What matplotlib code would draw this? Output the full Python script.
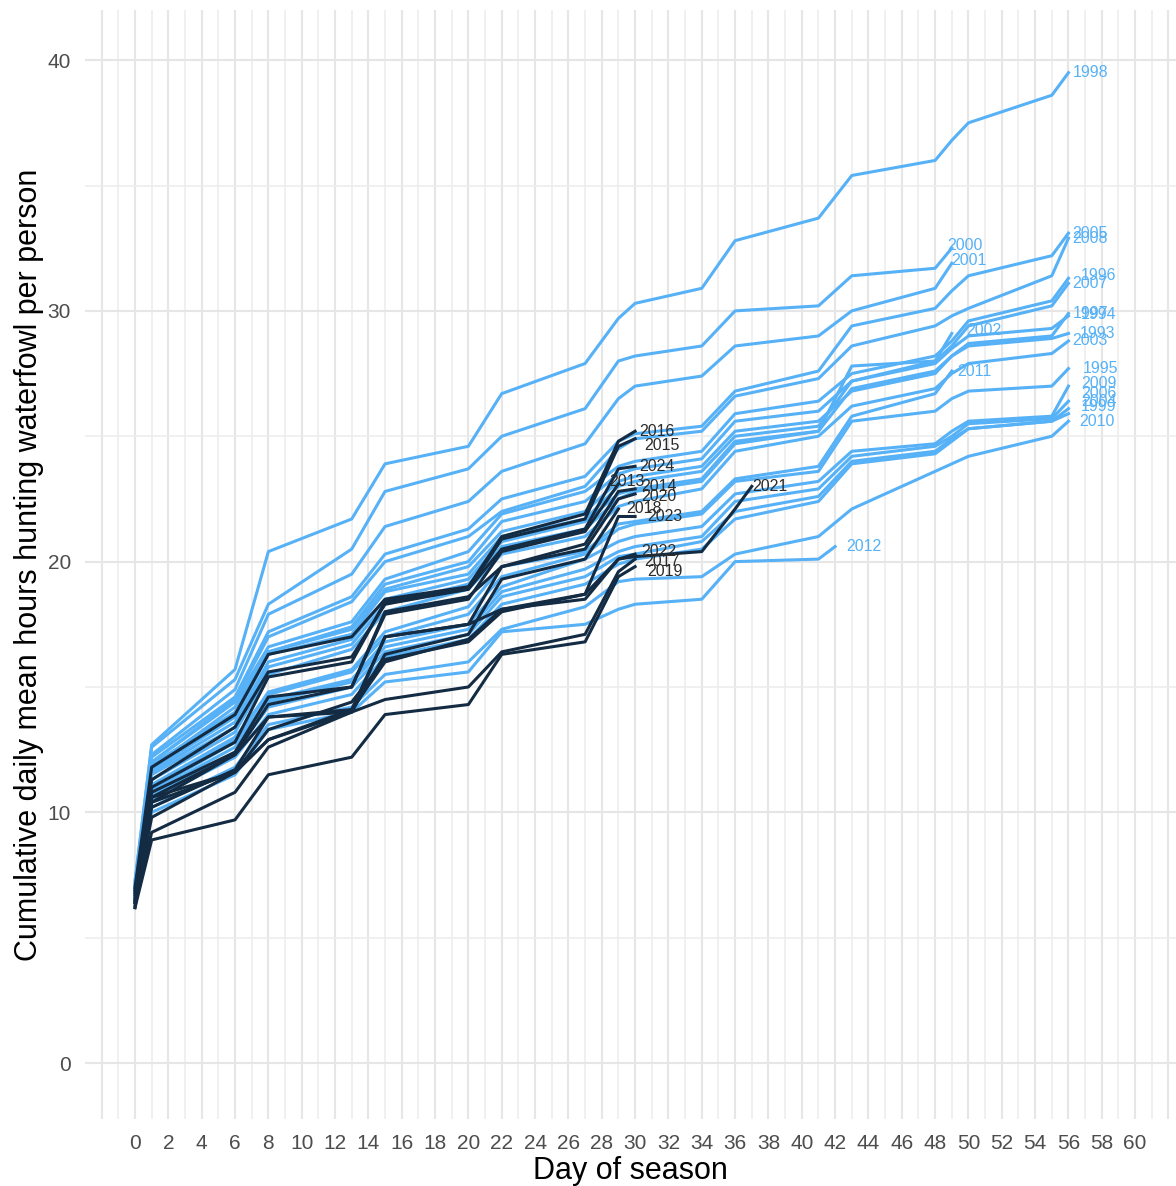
import numpy as np
import matplotlib
matplotlib.use("Agg")
import matplotlib.pyplot as plt

plt.rcParams["font.family"] = ["Liberation Sans", "DejaVu Sans"]

# day of season at which each series below has a value (None = no point there)
DAYS = [0, 1, 6, 8, 13, 15, 20, 22, 27, 29, 30, 34, 36, 37, 41, 42, 43, 48, 49, 50, 55, 56]
N = None

# earlier seasons (light blue)
h1998 = [7.2, 12.7, 15.7, 20.4, 21.7, 23.9, 24.6, 26.7, 27.9, 29.7, 30.3, 30.9, 32.8, N, 33.7, N, 35.4, 36.0, 36.8, 37.5, 38.6, 39.5]
h2000 = [7.3, 12.6, 15.3, 18.3, 20.5, 22.8, 23.7, 25.0, 26.1, 28.0, 28.2, 28.6, 30.0, N, 30.2, N, 31.4, 31.7, 32.5, N, N, N]
h2001 = [7.0, 12.3, 14.9, 17.9, 19.5, 21.4, 22.4, 23.6, 24.7, 26.5, 27.0, 27.4, 28.6, N, 29.0, N, 30.0, 30.9, 31.9, N, N, N]
h2005 = [7.1, 12.2, 14.6, 17.2, 18.6, 20.3, 21.3, 22.5, 23.4, 24.8, 25.1, 25.4, 26.8, N, 27.6, N, 29.4, 30.1, 30.8, 31.4, 32.2, 33.1]
h2008 = [6.9, 12.0, 14.5, 17.0, 18.4, 20.0, 21.0, 22.0, 23.0, 24.5, 24.9, 25.2, 26.6, N, 27.3, N, 28.6, 29.4, 29.8, 30.1, 31.4, 32.9]
h1996 = [7.0, 12.0, 14.4, 16.6, 17.6, 19.3, 20.4, 21.9, 22.8, 23.8, 24.0, 24.4, 25.9, N, 26.4, N, 27.5, 28.2, 28.8, 29.6, 30.4, 31.3]
h2007 = [6.9, 11.8, 14.2, 16.4, 17.4, 19.1, 20.0, 21.6, 22.4, 23.5, 23.7, 24.1, 25.6, N, 26.0, N, 27.2, 28.0, 28.6, 29.4, 30.2, 31.1]
h1997 = [7.0, 11.9, 14.0, 16.4, 17.3, 18.9, 19.8, 21.2, 22.0, 23.2, 23.4, 23.8, 25.2, N, 25.6, N, 26.8, 27.5, 28.2, 28.7, 29.0, 29.9]
h1994 = [7.1, 11.7, 13.8, 16.3, 17.1, 18.8, 19.5, 21.0, 21.7, 23.0, 23.2, 23.6, 25.0, N, 25.4, N, 27.2, 27.9, 28.5, 29.0, 29.3, 29.8]
h2002 = [6.8, 11.6, 13.6, 16.0, 16.9, 18.5, 19.3, 20.8, 21.6, 22.7, 22.9, 23.3, 24.8, N, 25.2, N, 27.8, 28.0, 29.1, N, N, N]
h1993 = [7.0, 11.5, 13.4, 15.8, 16.7, 18.3, 19.1, 20.6, 21.3, 22.5, 22.8, 23.2, 24.7, N, 25.2, N, 26.9, 27.6, 28.2, 28.6, 28.9, 29.1]
h2003 = [6.9, 11.3, 13.2, 15.5, 16.5, 18.0, 18.9, 20.3, 21.0, 22.2, 22.4, 22.9, 24.4, N, 25.0, N, 26.2, 26.9, 27.5, 27.9, 28.3, 28.8]
h2011 = [6.7, 11.0, 12.9, 14.8, 15.7, 17.2, 18.2, 19.8, 20.4, 21.5, 21.6, 22.0, 23.3, N, 23.8, N, 25.8, 26.7, 27.6, N, N, N]
h1995 = [6.9, 11.1, 13.0, 14.7, 15.6, 17.0, 17.9, 19.4, 20.3, 21.3, 21.5, 21.9, 23.2, N, 23.6, N, 25.6, 26.0, 26.5, 26.8, 27.0, 27.7]
h2009 = [6.8, 10.9, 12.8, 14.5, 15.3, 16.8, 17.5, 19.0, 20.1, 20.8, 21.0, 21.4, 22.7, N, 23.2, N, 24.4, 24.7, 25.2, 25.6, 25.8, 27.0]
h2006 = [6.7, 10.8, 12.6, 14.4, 15.2, 16.6, 17.3, 18.8, 19.7, 20.4, 20.6, 21.0, 22.4, N, 22.9, N, 24.2, 24.6, 25.0, 25.5, 25.7, 26.4]
h2004 = [6.8, 10.7, 12.4, 14.2, 15.0, 16.4, 17.1, 18.6, 19.4, 20.2, 20.3, 20.8, 22.0, N, 22.6, N, 24.0, 24.4, 24.9, 25.3, 25.6, 26.1]
h1999 = [6.6, 10.5, 12.2, 13.9, 14.7, 16.2, 16.9, 18.3, 19.1, 19.9, 20.1, 20.5, 21.7, N, 22.4, N, 23.9, 24.3, 24.8, 25.3, 25.6, 25.9]
h2010 = [6.5, 10.2, 11.8, 13.5, 14.2, 15.5, 16.0, 17.3, 18.2, 19.2, 19.3, 19.4, 20.3, N, 21.0, N, 22.1, 23.6, 23.9, 24.2, 25.0, 25.6]
h2012 = [6.4, 10.0, 11.5, 13.3, 14.0, 15.2, 15.6, 17.2, 17.5, 18.1, 18.3, 18.5, 20.0, N, 20.1, 20.6, N, N, N, N, N, N]

# recent seasons (dark navy)
h2016 = [7.0, 11.8, 13.9, 16.3, 17.0, 18.5, 19.0, 21.0, 21.9, 24.8, 25.2] + [N] * 11
h2015 = [6.9, 11.3, 13.4, 15.6, 16.2, 18.3, 18.9, 20.9, 21.7, 24.6, 24.9] + [N] * 11
h2024 = [6.6, 11.0, 12.8, 15.4, 16.0, 18.4, 18.9, 20.5, 21.3, 23.7, 23.8] + [N] * 11
h2013 = [6.8, 10.8, 12.4, 14.6, 15.0, 17.9, 18.5, 20.4, 21.2, 23.1, N] + [N] * 11
h2014 = [6.5, 10.6, 12.3, 14.3, 15.0, 18.0, 18.6, 19.8, 20.7, 22.8, 22.9] + [N] * 11
h2020 = [6.4, 10.4, 12.3, 13.8, 14.1, 17.0, 17.5, 19.8, 20.5, 22.5, 22.7] + [N] * 11
h2018 = [6.2, 10.2, 11.7, 13.8, 14.0, 16.3, 17.1, 19.3, 20.1, 22.1, N] + [N] * 11
h2023 = [6.3, 10.4, 11.6, 13.3, 14.4, 16.1, 16.8, 18.0, 18.7, 21.8, 21.8] + [N] * 11
h2021 = [6.7, 10.6, 11.6, 12.9, 14.0, 17.0, 17.5, 18.1, 18.7, 20.1, 20.2, 20.4, 22.1, 23.0] + [N] * 8
h2022 = [6.4, 9.8, 11.6, 12.9, 14.1, 16.0, 16.9, 18.1, 18.5, 20.1, 20.3] + [N] * 11
h2017 = [6.5, 9.2, 10.8, 12.6, 14.0, 14.5, 15.0, 16.4, 17.1, 19.6, 20.1] + [N] * 11
h2019 = [6.2, 8.9, 9.7, 11.5, 12.2, 13.9, 14.3, 16.3, 16.8, 19.4, 19.8] + [N] * 11

early = {1998: h1998, 2000: h2000, 2001: h2001, 2005: h2005, 2008: h2008, 1996: h1996,
         2007: h2007, 1997: h1997, 1994: h1994, 2002: h2002, 1993: h1993, 2003: h2003,
         2011: h2011, 1995: h1995, 2009: h2009, 2006: h2006, 2004: h2004, 1999: h1999,
         2010: h2010, 2012: h2012}
recent = {2016: h2016, 2015: h2015, 2024: h2024, 2013: h2013, 2014: h2014, 2020: h2020,
          2018: h2018, 2023: h2023, 2021: h2021, 2022: h2022, 2017: h2017, 2019: h2019}

LIGHT = "#56B1F7"
DARK = "#132B43"

# small label shifts (days, hours) so the end labels sit roughly where the repel put them
nudge = {2000: (-0.5, 0.1), 2001: (-0.3, 0.1), 2002: (0.6, 0.1), 2011: (0.1, 0.0),
         1994: (0.5, 0.05), 1996: (0.5, 0.1), 1993: (0.4, 0.0), 2009: (0.5, 0.1),
         2006: (0.5, 0.3), 2004: (0.5, 0.3), 1999: (0.5, 0.3), 1995: (0.6, 0.0),
         2010: (0.4, 0.0), 2012: (0.4, 0.0), 2013: (-0.8, 0.1), 2015: (0.3, -0.25),
         2018: (0.2, 0.0), 2023: (0.5, 0.0), 2014: (0.1, 0.1), 2020: (0.1, -0.1),
         2017: (0.3, -0.1), 2019: (0.5, -0.2), 2021: (-0.2, 0.0), 2022: (0.1, 0.1)}

fig = plt.figure(figsize=(11.76, 11.86), dpi=100)
ax = fig.add_axes([85 / 1176, 1 - 1119 / 1186, 1 - 85 / 1176, (1119 - 10) / 1186])

days = np.array(DAYS, dtype=float)
for group, col in [(early, LIGHT), (recent, DARK)]:
    for yr, vals in group.items():
        v = np.array([np.nan if a is None else a for a in vals], dtype=float)
        ok = ~np.isnan(v)
        x, y = days[ok], v[ok]
        ax.plot(x, y, color=col, lw=2.2, solid_joinstyle="round", zorder=3)
        dx, dy = nudge.get(yr, (0.0, 0.0))
        ax.text(x[-1] + 0.25 + dx, y[-1] + dy, str(yr), color=col if col == LIGHT else "#2b2b2b",
                fontsize=11.5, ha="left", va="center", zorder=4)

# grid: a line at every day, every 5 hours
for d in range(-2, 63):
    ax.axvline(d, color="#e6e6e6" if d % 2 == 0 else "#ededed", lw=1.5 if d % 2 == 0 else 1.2, zorder=0)
for h in range(0, 41, 5):
    ax.axhline(h, color="#e6e6e6" if h % 10 == 0 else "#ededed", lw=1.5 if h % 10 == 0 else 1.2, zorder=0)

ax.set_xlim(-3, 62.45)
ax.set_ylim(-2.23, 42.0)
ax.set_xticks(range(0, 61, 2))
ax.set_yticks(range(0, 41, 10))
ax.tick_params(length=0, labelsize=15, colors="#4d4d4d")
ax.tick_params(axis="x", pad=11)
ax.tick_params(axis="y", pad=10)
for s in ax.spines.values():
    s.set_visible(False)
ax.set_xlabel("Day of season", fontsize=22, color="black", labelpad=2)
ax.set_ylabel("Cumulative daily mean hours hunting waterfowl per person", fontsize=22,
              color="black", labelpad=3)

fig.savefig("out.png", dpi=100)
